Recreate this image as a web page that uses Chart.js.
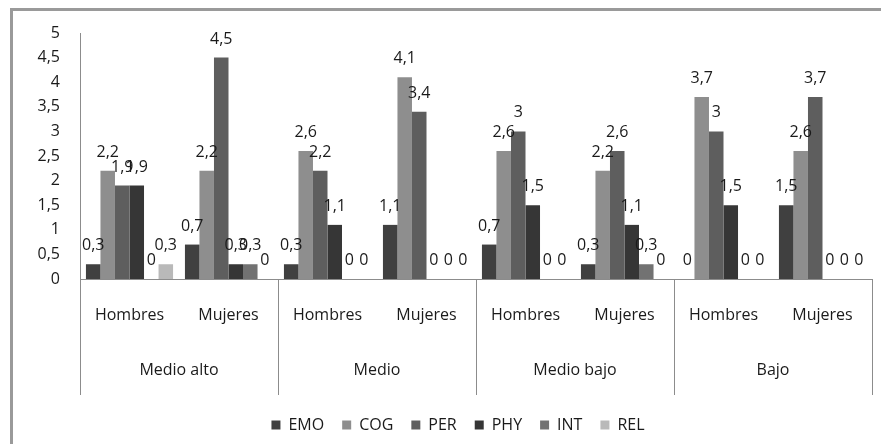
<!DOCTYPE html>
<html><head><meta charset="utf-8">
<script src="https://cdn.jsdelivr.net/npm/chart.js@4.4.1/dist/chart.umd.min.js"></script>
<style>html,body{margin:0;padding:0;background:#fff;}#wrap{width:881px;height:444px;}</style>
</head><body><div id="wrap"><canvas id="c" width="881" height="444"></canvas></div>
<script>
const categories = ['Hombres','Mujeres','Hombres','Mujeres','Hombres','Mujeres','Hombres','Mujeres'];
const levels = ['Medio alto','Medio','Medio bajo','Bajo'];
const seriesNames = ['EMO','COG','PER','PHY','INT','REL'];
const EMO = [0.3, 0.7, 0.3, 1.1, 0.7, 0.3, 0, 1.5];
const COG = [2.2, 2.2, 2.6, 4.1, 2.6, 2.2, 3.7, 2.6];
const PER = [1.9, 4.5, 2.2, 3.4, 3, 2.6, 3, 3.7];
const PHY = [1.9, 0.3, 1.1, 0, 1.5, 1.1, 1.5, 0];
const INT = [0, 0.3, 0, 0, 0, 0.3, 0, 0];
const REL = [0.3, 0, 0, 0, 0, 0, 0, 0];
const yMin = 0, yMax = 5, yStep = 0.5;

const colors = ['#404040','#8e8e8e','#5e5e5e','#363636','#727272','#b9b9b9'];
const seriesValues = [EMO, COG, PER, PHY, INT, REL];
const FONT = '"Open Sans", "Noto Sans", sans-serif';
const fmt = v => String(v).replace('.', ',');

const borderPlugin = {
  id: 'outerBorder',
  beforeDraw(chart) {
    const ctx = chart.ctx;
    ctx.save();
    ctx.fillStyle = '#fff';
    ctx.fillRect(0, 0, chart.width, chart.height);
    ctx.strokeStyle = '#9a9a9a';
    ctx.lineWidth = 3;
    ctx.strokeRect(11.5, 9.5, 1000, 1000);
    ctx.restore();
  }
};

const legendShift = {
  id: 'legendShift',
  afterLayout(chart) {
    const lg = chart.legend;
    if (lg) { lg.left += 17; lg.right += 17; }
  }
};

const labelPlugin = {
  id: 'dataLabels',
  afterDatasetsDraw(chart) {
    const ctx = chart.ctx;
    ctx.save();
    ctx.font = '16px ' + FONT;
    ctx.fillStyle = '#1a1a1a';
    ctx.textAlign = 'center';
    ctx.textBaseline = 'alphabetic';
    chart.data.datasets.forEach((ds, i) => {
      chart.getDatasetMeta(i).data.forEach((el, j) => {
        ctx.fillText(fmt(ds.data[j]), el.x, el.y - 14);
      });
    });
    ctx.restore();
  }
};

const sepPlugin = {
  id: 'groupSeparators',
  afterDraw(chart) {
    const x = chart.scales.x, x2 = chart.scales.x2;
    const ctx = chart.ctx;
    const top = chart.chartArea.bottom;
    const bottom = x2.bottom - 4;
    ctx.save();
    ctx.strokeStyle = '#8c8c8c';
    ctx.lineWidth = 1;
    for (let i = 0; i <= levels.length; i++) {
      let px;
      if (i === 0) px = x.left;
      else if (i === levels.length) px = x.right;
      else px = (x.getPixelForValue(2 * i - 1) + x.getPixelForValue(2 * i)) / 2;
      px = Math.round(px) + 0.5;
      ctx.beginPath();
      ctx.moveTo(px, top);
      ctx.lineTo(px, bottom);
      ctx.stroke();
    }
    ctx.restore();
  }
};

new Chart(document.getElementById('c'), {
  type: 'bar',
  data: {
    labels: categories,
    datasets: seriesNames.map((n, i) => ({
      label: n,
      data: seriesValues[i],
      backgroundColor: colors[i],
      borderWidth: 0,
      categoryPercentage: 0.88,
      barPercentage: 1
    }))
  },
  options: {
    responsive: false,
    animation: false,
    devicePixelRatio: 1,
    layout: { padding: { left: 10, right: 9, top: 33, bottom: 1 } },
    plugins: {
      legend: {
        position: 'bottom',
        labels: { boxWidth: 9, boxHeight: 9, padding: 18, color: '#1a1a1a', font: { family: FONT, size: 16 } }
      },
      tooltip: { enabled: false }
    },
    scales: {
      y: {
        min: yMin, max: yMax,
        ticks: { stepSize: yStep, callback: v => fmt(v), color: '#1a1a1a', padding: 20, font: { family: FONT, size: 16 } },
        grid: { display: false, drawTicks: false },
        border: { display: true, color: '#8c8c8c', width: 1 },
        afterFit: s => { s.width = 70; }
      },
      x: {
        offset: true,
        grid: { display: false, drawTicks: false },
        border: { display: true, color: '#8c8c8c', width: 1 },
        ticks: { color: '#1a1a1a', padding: 27, maxRotation: 0, autoSkip: false, font: { family: FONT, size: 16 } },
        afterFit: s => { s.height = 58; }
      },
      x2: {
        type: 'category',
        labels: levels,
        position: 'bottom',
        offset: true,
        grid: { display: false, drawTicks: false },
        border: { display: false },
        ticks: { color: '#1a1a1a', padding: 24, maxRotation: 0, autoSkip: false, font: { family: FONT, size: 16 } },
        afterFit: s => { s.height = 62; }
      }
    }
  },
  plugins: [borderPlugin, legendShift, labelPlugin, sepPlugin]
});
</script></body></html>
